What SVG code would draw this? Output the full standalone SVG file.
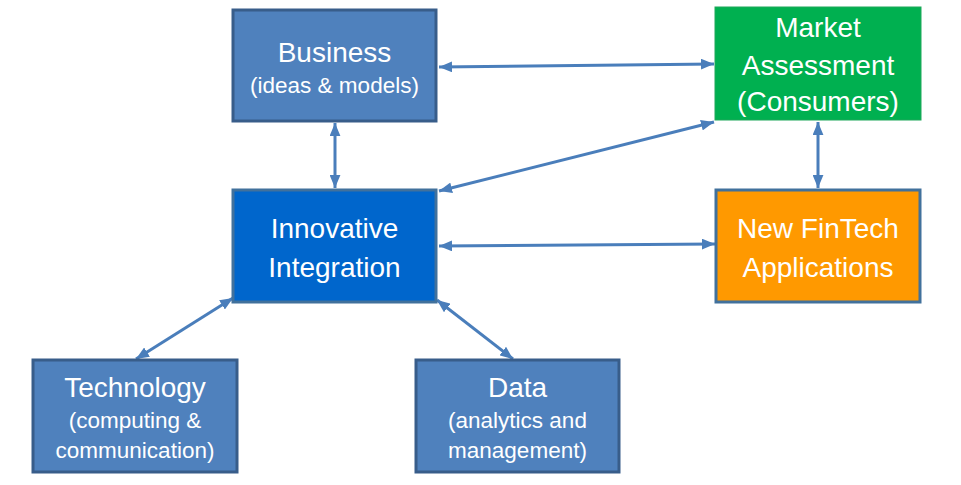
<svg xmlns="http://www.w3.org/2000/svg" width="961" height="485" viewBox="0 0 961 485">
<style>
.t{font-family:"Liberation Sans",Arial,sans-serif;fill:#fff;text-anchor:middle}
.h{font-size:28px}
.s{font-size:22.5px}
.bx{stroke-width:3}
.ln{stroke:#4A7EBB;stroke-width:3;fill:none;marker-start:url(#ah);marker-end:url(#ah)}
</style>
<defs>
<marker id="ah" markerUnits="userSpaceOnUse" viewBox="0 0 12 10" refX="12" refY="5" markerWidth="13" markerHeight="11" orient="auto-start-reverse">
<path d="M0,0 L12,5 L0,10 Z" fill="#4A7EBB"/>
</marker>
</defs>
<rect width="961" height="485" fill="#fff"/>
<g id="connectors">
<line class="ln" x1="439" y1="67" x2="714" y2="64"/>
<line class="ln" x1="335" y1="123" x2="335" y2="188"/>
<line class="ln" x1="714" y1="122" x2="439" y2="191"/>
<line class="ln" x1="818" y1="122" x2="818" y2="188"/>
<line class="ln" x1="439" y1="246" x2="715" y2="244"/>
<line class="ln" x1="233" y1="298" x2="136" y2="359"/>
<line class="ln" x1="437" y1="300" x2="513" y2="359"/>
</g>
<g id="business">
<rect class="bx" x="233" y="10" width="203" height="111" fill="#4F81BD" stroke="#385D8A"/>
<text class="t h" x="334.5" y="62">Business</text>
<text class="t s" x="334.5" y="93">(ideas &amp; models)</text>
</g>
<g id="market">
<rect x="715" y="7" width="206" height="113" fill="#00B050" stroke="#1FA75A" stroke-width="1"/>
<text class="t h" x="818" y="37">Market</text>
<text class="t h" x="818" y="75">Assessment</text>
<text class="t h" x="818" y="111">(Consumers)</text>
</g>
<g id="innovative">
<rect class="bx" x="233" y="190" width="203" height="112" fill="#0066CC" stroke="#41719C"/>
<text class="t h" x="334.5" y="238">Innovative</text>
<text class="t h" x="334.5" y="277">Integration</text>
</g>
<g id="fintech">
<rect class="bx" x="716" y="190" width="204" height="112" fill="#FF9900" stroke="#41719C"/>
<text class="t h" x="818" y="238">New FinTech</text>
<text class="t h" x="818" y="277">Applications</text>
</g>
<g id="technology">
<rect class="bx" x="33" y="360" width="204" height="112" fill="#4F81BD" stroke="#385D8A"/>
<text class="t h" x="135" y="397">Technology</text>
<text class="t s" x="135" y="428">(computing &amp;</text>
<text class="t s" x="135" y="458">communication)</text>
</g>
<g id="data">
<rect class="bx" x="416" y="360" width="203" height="112" fill="#4F81BD" stroke="#385D8A"/>
<text class="t h" x="517.5" y="397">Data</text>
<text class="t s" x="517.5" y="428">(analytics and</text>
<text class="t s" x="517.5" y="458">management)</text>
</g>
</svg>
